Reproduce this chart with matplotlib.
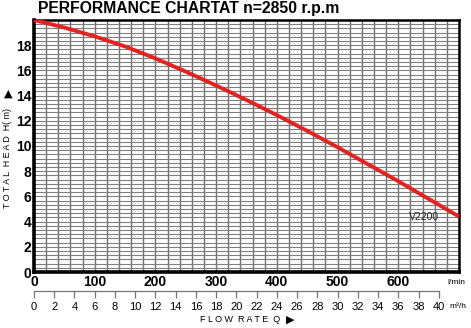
import matplotlib
matplotlib.use("Agg")
import matplotlib.pyplot as plt
import numpy as np

plt.rcParams['font.family'] = ['Liberation Sans', 'DejaVu Sans']

# curva: caudal (l/min) vs altura (m)
flow_lpm = [0, 50, 100, 150, 200, 250, 300, 350, 400, 450, 500, 550, 600, 650, 700]
head_m = [20.0, 19.4, 18.7, 17.9, 16.95, 15.9, 14.8, 13.65, 12.45, 11.2, 9.9, 8.55, 7.2, 5.8, 4.4]

x_ticks = [0, 100, 200, 300, 400, 500, 600]
y_ticks = [0, 2, 4, 6, 8, 10, 12, 14, 16, 18]
m3h_ticks = list(range(0, 41, 2))
model = "V2200"

fig = plt.figure(figsize=(4.71, 3.28), dpi=100)
ax = fig.add_axes([34 / 471, 56 / 328, 425 / 471, 252 / 328])

ax.set_xlim(0, 700)
ax.set_ylim(0, 20)

# rejilla
for xv in np.arange(20, 700, 20):
    ax.axvline(xv, color='#707070', lw=1.0, zorder=1)
for yv in np.arange(1, 60) / 3:
    ax.axhline(yv, color='#808080', lw=0.8, zorder=1)

ax.plot(flow_lpm, head_m, color='#e32322', lw=2.8, zorder=3, solid_capstyle='butt',
        solid_joinstyle='round')
ax.text(668, 4.4, model, fontsize=7.5, ha='right', va='center', color='#222222', zorder=4)

for side in ['left', 'bottom']:
    ax.spines[side].set_linewidth(2.6)
for side in ['top', 'right']:
    ax.spines[side].set_linewidth(1.8)

ax.set_xticks(x_ticks)
ax.set_xticklabels([str(v) for v in x_ticks], fontsize=10, fontweight='bold')
ax.set_yticks(y_ticks)
ax.set_yticklabels([str(v) for v in y_ticks], fontsize=10, fontweight='bold')
ax.tick_params(length=0, pad=2)

# eje secundario en m3/h
sec = ax.secondary_xaxis(-0.075, functions=(lambda q: q * 0.06, lambda q: q / 0.06))
sec.set_xticks(m3h_ticks)
sec.set_xticklabels([str(v) for v in m3h_ticks], fontsize=8)
sec.tick_params(direction='out', length=5, width=0.9, color='#777777', pad=3)
sec.spines['bottom'].set_color('#777777')
sec.spines['bottom'].set_linewidth(0.9)
sec.spines['bottom'].set_bounds(0, 40)

fig.text(447 / 471, 1 - 283 / 328, 'l/min', fontsize=6, ha='left', va='center')
fig.text(449 / 471, 1 - 306 / 328, 'm\u00b3/h', fontsize=6, ha='left', va='center')

fig.text(38 / 471, 1 - 9 / 328, 'PERFORMANCE CHARTAT n=2850 r.p.m', fontsize=11.3,
         fontweight='bold', ha='left', va='center')
fig.text(240 / 471, 1 - 320 / 328, 'F L O W  R A T E  Q', fontsize=6.5, ha='center', va='center')
fig.text(290 / 471, 1 - 320 / 328, '\u25b6', fontsize=8, ha='center', va='center',
         family=['DejaVu Sans'])
fig.text(8 / 471, 1 - 158 / 328, 'T O T A L  H E A D  H( m)', fontsize=6.4, rotation=90,
         ha='center', va='center')
fig.text(8 / 471, 1 - 94 / 328, '\u25b2', fontsize=8, ha='center', va='center',
         family=['DejaVu Sans'])

fig.savefig('out.png', dpi=100)
